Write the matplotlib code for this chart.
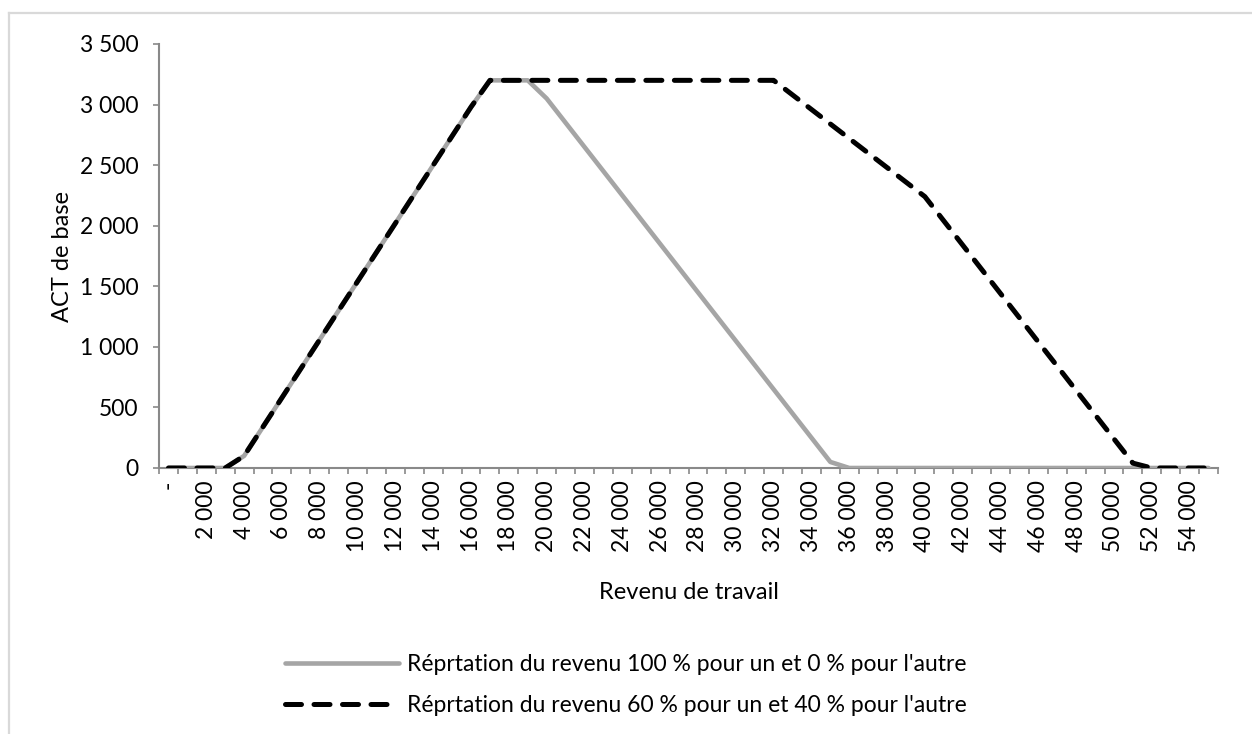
import matplotlib
matplotlib.use("Agg")
import matplotlib.pyplot as plt
from matplotlib.lines import Line2D
import numpy as np

# ---- data ----
income = list(range(0, 56000, 1000))
serie_100_0 = [0, 0, 0, 0, 100, 340, 580, 820, 1060, 1300, 1540, 1780, 2020, 2260,
               2500, 2740, 2980, 3200, 3200, 3200, 3050, 2850, 2650, 2450, 2250, 2050,
               1850, 1650, 1450, 1250, 1050, 850, 650, 450, 250, 50,
               0, 0, 0, 0, 0, 0, 0, 0, 0, 0, 0, 0, 0, 0, 0, 0, 0, 0, 0, 0]
serie_60_40 = [0, 0, 0, 0, 100, 340, 580, 820, 1060, 1300, 1540, 1780, 2020, 2260,
               2500, 2740, 2980, 3200, 3200, 3200, 3200, 3200, 3200, 3200, 3200, 3200,
               3200, 3200, 3200, 3200, 3200, 3200, 3200, 3080, 2960, 2840, 2720, 2600,
               2480, 2360, 2240, 2040, 1840, 1640, 1440, 1240, 1040, 840, 640, 440,
               240, 40, 0, 0, 0, 0]
label_100 = "Réprtation du revenu 100 % pour un et 0 % pour l'autre"
label_60 = "Réprtation du revenu 60 % pour un et 40 % pour l'autre"
y_ticks = [0, 500, 1000, 1500, 2000, 2500, 3000, 3500]


def fmt(v):
    return "-" if v == 0 else f"{v:,}".replace(",", " ")


FONT = ["Lato", "DejaVu Sans"]
plt.rcParams['font.family'] = FONT
FS = 16.5

W, H = 1252, 734
fig = plt.figure(figsize=(W / 100, H / 100), dpi=100)
ax = fig.add_axes([159 / W, 1 - 468 / H, (1218 - 159) / W, (468 - 44) / H])

x = np.arange(len(income))
ax.plot(x, serie_100_0, color="#A5A5A5", lw=3.3, solid_capstyle="round",
        solid_joinstyle="round", label=label_100, zorder=3)
ax.plot(x, serie_60_40, color="black", lw=3.6, dashes=(3.2, 2.5),
        dash_capstyle="round", dash_joinstyle="round", label=label_60, zorder=4)

ax.set_xlim(-0.5, len(income) - 0.5)
ax.set_ylim(0, 3500)

# x ticks: labels every 2 categories, tick marks at category boundaries
ax.set_xticks(x[::2])
ax.set_xticklabels([fmt(v) for v in income[::2]], rotation=90, fontsize=FS)
ax.tick_params(axis="x", which="major", length=0, pad=9)
ax.set_xticks(np.arange(-0.5, len(income), 1), minor=True)
ax.tick_params(axis="x", which="minor", length=4.5, width=1.2, color="#898989",
               direction="out")

ax.set_yticks(y_ticks)
ax.set_yticklabels([f"{v:,}".replace(",", " ") for v in y_ticks], fontsize=FS)
ax.tick_params(axis="y", length=4, width=1.2, color="#898989", pad=11)

for s in ["top", "right"]:
    ax.spines[s].set_visible(False)
for s in ["left", "bottom"]:
    ax.spines[s].set_color("#898989")
    ax.spines[s].set_linewidth(1.5)

ax.set_ylabel("ACT de base", fontsize=FS + 0.5)
ax.yaxis.set_label_coords((73 - 159) / (1218 - 159), 0.5)
ax.set_xlabel("Revenu de travail", fontsize=FS + 0.5)
ax.xaxis.set_label_coords(0.5, (468 - 582) / (468 - 44))

leg = fig.legend(loc="center", bbox_to_anchor=(0.5, 1 - 685 / H),
                 frameon=False, fontsize=FS, handlelength=5.0,
                 handletextpad=0.35, labelspacing=0.9, borderpad=0)

# chart-area border remnants (top and left)
fig.add_artist(Line2D([9 / W, 1], [1 - 13 / H, 1 - 13 / H], color="#D9D9D9",
                      lw=1.6, transform=fig.transFigure))
fig.add_artist(Line2D([9 / W, 9 / W], [0, 1 - 13 / H], color="#D9D9D9",
                      lw=1.6, transform=fig.transFigure))

fig.savefig("out.png", dpi=100)
